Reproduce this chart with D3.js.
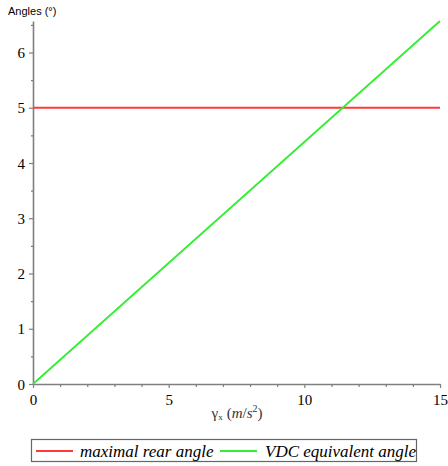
<!DOCTYPE html>
<html><head><meta charset="utf-8">
<script src="https://cdn.jsdelivr.net/npm/d3@7/dist/d3.min.js"></script>
<style>body{margin:0;background:#fff}svg{display:block}</style>
</head><body>
<svg id="c" width="448" height="466"></svg>
<script>
const xValues = [0, 5, 10, 15];
const maximalRearAngle = [5, 5, 5, 5];
const vdcEquivalentAngle = [0, 2.19, 4.38, 6.57];
const xTickLabels = [0, 5, 10, 15];
const yTickLabels = [0, 1, 2, 3, 4, 5, 6];
const seriesNames = ["maximal rear angle", "VDC equivalent angle"];
const seriesColors = ["#ff3a3a", "#33ee33"];

const svg = d3.select("#c");
const x = d3.scaleLinear().domain([0, 15]).range([33, 440]);
const y = d3.scaleLinear().domain([0, 6.57]).range([384, 21]);
const axisColor = "#7f7f7f";

// Y axis
const yAxis = d3.axisLeft(y).tickValues(d3.range(0, 6.6, 0.5)).tickSize(0).tickFormat("");
const gy = svg.append("g").attr("transform", "translate(33,0)").call(yAxis);
gy.select(".domain").attr("stroke", axisColor).attr("stroke-width", 1.6);
gy.selectAll(".tick line").remove();
gy.selectAll(".tick").append("line")
  .attr("x1", d => Number.isInteger(d) ? -4 : -2).attr("x2", 0)
  .attr("stroke", axisColor).attr("stroke-width", 1.2);
gy.selectAll(".tick").filter(d => yTickLabels.includes(d)).append("text")
  .attr("x", -8).attr("dy", "0.34em").attr("text-anchor", "end")
  .attr("fill", "#000").attr("font-family", "Liberation Serif, Times New Roman, serif")
  .attr("font-size", 15).text(d => d);

// X axis
const xAxis = d3.axisBottom(x).tickValues(d3.range(0, 16, 1)).tickSize(0).tickFormat("");
const gx = svg.append("g").attr("transform", "translate(0,384)").call(xAxis);
gx.select(".domain").attr("stroke", axisColor).attr("stroke-width", 1.6);
gx.selectAll(".tick line").remove();
gx.selectAll(".tick").append("line")
  .attr("y1", 0).attr("y2", d => xTickLabels.includes(d) ? 4 : 3)
  .attr("stroke", axisColor).attr("stroke-width", 1.2);
gx.selectAll(".tick").filter(d => xTickLabels.includes(d)).append("text")
  .attr("y", 16).attr("dy", "0.34em").attr("text-anchor", "middle")
  .attr("fill", "#000").attr("font-family", "Liberation Serif, Times New Roman, serif")
  .attr("font-size", 15).text(d => d);

// Lines
const line = d3.line().x((d, i) => x(xValues[i])).y(d => y(d));
svg.append("path").datum(maximalRearAngle).attr("d", line)
  .attr("fill", "none").attr("stroke", seriesColors[0]).attr("stroke-width", 1.8);
svg.append("path").datum(vdcEquivalentAngle).attr("d", line)
  .attr("fill", "none").attr("stroke", seriesColors[1]).attr("stroke-width", 1.8);

// Title
svg.append("text").attr("x", 8).attr("y", 15)
  .attr("font-family", "Liberation Sans, Arial, sans-serif").attr("font-size", 11)
  .attr("fill", "#000").text("Angles (°)");

// X label
const xl = svg.append("text").attr("x", 237).attr("y", 418).attr("text-anchor", "middle")
  .attr("font-family", "Liberation Serif, Times New Roman, serif").attr("font-size", 15).attr("fill", "#333");
xl.append("tspan").text("γ");
xl.append("tspan").attr("font-size", 9).attr("dy", 2).text("x");
xl.append("tspan").attr("dy", -2).attr("dx", 4).text("(");
xl.append("tspan").attr("font-style", "italic").text("m");
xl.append("tspan").text("/");
xl.append("tspan").attr("font-style", "italic").text("s");
xl.append("tspan").attr("font-size", 10).attr("dy", -6).text("2");
xl.append("tspan").attr("dy", 6).text(")");

// Legend
svg.append("rect").attr("x", 31.5).attr("y", 439.5).attr("width", 385).attr("height", 22)
  .attr("fill", "#fff").attr("stroke", "#666").attr("stroke-width", 1.2);
const legendItems = [
  {lx: 36, tx: 80},
  {lx: 220, tx: 265}
];
seriesNames.forEach((name, i) => {
  const g = svg.append("g");
  g.append("line").attr("x1", legendItems[i].lx).attr("x2", legendItems[i].lx + 37)
    .attr("y1", 451).attr("y2", 451).attr("stroke", seriesColors[i]).attr("stroke-width", 1.8);
  g.append("text").attr("x", legendItems[i].tx).attr("y", 456.5)
    .attr("font-family", "Liberation Serif, Times New Roman, serif").attr("font-style", "italic")
    .attr("font-size", 17).attr("fill", "#000").text(name);
});
</script>
</body></html>
